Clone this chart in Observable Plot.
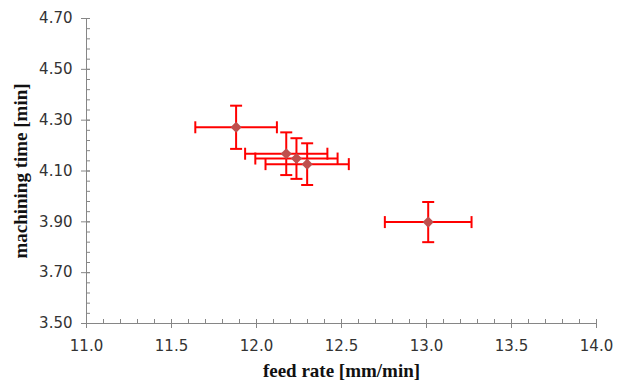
<!DOCTYPE html>
<html><head><meta charset="utf-8">
<script src="https://cdn.jsdelivr.net/npm/d3@7"></script>
<script src="https://cdn.jsdelivr.net/npm/@observablehq/plot@0.6"></script>
<style>
body{margin:0;background:#fff;}
#chart svg{display:block;}
</style>
</head><body><div id="chart"></div>
<script>
const feedRate = [11.88, 12.175, 12.235, 12.298, 13.01];
const feedRateErr = [0.24, 0.242, 0.242, 0.245, 0.255];
const machiningTime = [4.272, 4.168, 4.149, 4.127, 3.899];
const machiningTimeErr = [0.085, 0.084, 0.08, 0.082, 0.079];
const xMajorTicks = [11.0, 11.5, 12.0, 12.5, 13.0, 13.5, 14.0];
const xMinorTicks = d3.range(110, 141, 1).map(v => v / 10);
const yMajorTicks = [3.5, 3.7, 3.9, 4.1, 4.3, 4.5, 4.7];
const yMinorTicks = d3.range(0, 31).map(i => +(3.5 + i * 0.04).toFixed(2));
const xTitle = "feed rate [mm/min]";
const yTitle = "machining time [min]";

const data = feedRate.map((x, i) => ({x, ex: feedRateErr[i], y: machiningTime[i], ey: machiningTimeErr[i]}));

const vLine = {draw(ctx, size) { const r = Math.sqrt(size / Math.PI); ctx.moveTo(0, -r); ctx.lineTo(0, r); }};
const hLine = {draw(ctx, size) { const r = Math.sqrt(size / Math.PI); ctx.moveTo(-r, 0); ctx.lineTo(r, 0); }};

const axisColor = "#868686";
const labelFont = {fontFamily: "DejaVu Sans", fontSize: 15, style: {letterSpacing: "0.6px"}};
const titleFont = {fontFamily: "Liberation Serif", fontWeight: "bold", fontSize: 19, fill: "#111", textAnchor: "middle"};
const errColor = "#ff0000";

const chart = Plot.plot({
  width: 627,
  height: 391,
  marginLeft: 86,
  marginRight: 31,
  marginTop: 18,
  marginBottom: 68,
  style: {background: "#fff", fontFamily: "DejaVu Sans"},
  x: {domain: [11, 14]},
  y: {domain: [3.5, 4.7]},
  marks: [
    Plot.ruleX([11], {stroke: axisColor}),
    Plot.ruleY([3.5], {stroke: axisColor}),
    // x ticks
    Plot.axisX({ticks: xMinorTicks, tickSize: 4, dy: -4, tickFormat: () => "", label: null, stroke: axisColor}),
    Plot.axisX({ticks: xMajorTicks, tickSize: 9, dy: -4, tickFormat: () => "", label: null, stroke: axisColor}),
    Plot.axisX({ticks: xMajorTicks, tickSize: 0, tickPadding: 17, tickFormat: d3.format(".1f"), label: null,
      fill: "#333", ...labelFont}),
    // y ticks
    Plot.axisY({ticks: yMinorTicks, tickSize: 4, dx: 4, tickFormat: () => "", label: null, stroke: axisColor}),
    Plot.axisY({ticks: yMajorTicks, tickSize: 9, dx: 4, tickFormat: () => "", label: null, stroke: axisColor}),
    Plot.axisY({ticks: yMajorTicks, tickSize: 0, tickPadding: 14, tickFormat: d3.format(".2f"), label: null,
      fill: "#333", ...labelFont}),
    // titles
    Plot.text([xTitle], {frameAnchor: "bottom", dy: 53, ...titleFont}),
    Plot.text([yTitle], {frameAnchor: "left", dx: -66, rotate: -90, ...titleFont}),
    // error bars
    Plot.link(data, {x1: d => d.x - d.ex, x2: d => d.x + d.ex, y1: "y", y2: "y", stroke: errColor, strokeWidth: 2}),
    Plot.dot(data, {x: d => d.x - d.ex, y: "y", symbol: vLine, r: 6, stroke: errColor, strokeWidth: 2}),
    Plot.dot(data, {x: d => d.x + d.ex, y: "y", symbol: vLine, r: 6, stroke: errColor, strokeWidth: 2}),
    Plot.link(data, {x1: "x", x2: "x", y1: d => d.y - d.ey, y2: d => d.y + d.ey, stroke: errColor, strokeWidth: 2}),
    Plot.dot(data, {x: "x", y: d => d.y - d.ey, symbol: hLine, r: 6, stroke: errColor, strokeWidth: 2}),
    Plot.dot(data, {x: "x", y: d => d.y + d.ey, symbol: hLine, r: 6, stroke: errColor, strokeWidth: 2}),
    // markers
    Plot.dot(data, {x: "x", y: "y", symbol: "diamond2", r: 5, fill: "#bf4f4d", stroke: "none"})
  ]
});
document.getElementById("chart").appendChild(chart);
</script>
</body></html>
